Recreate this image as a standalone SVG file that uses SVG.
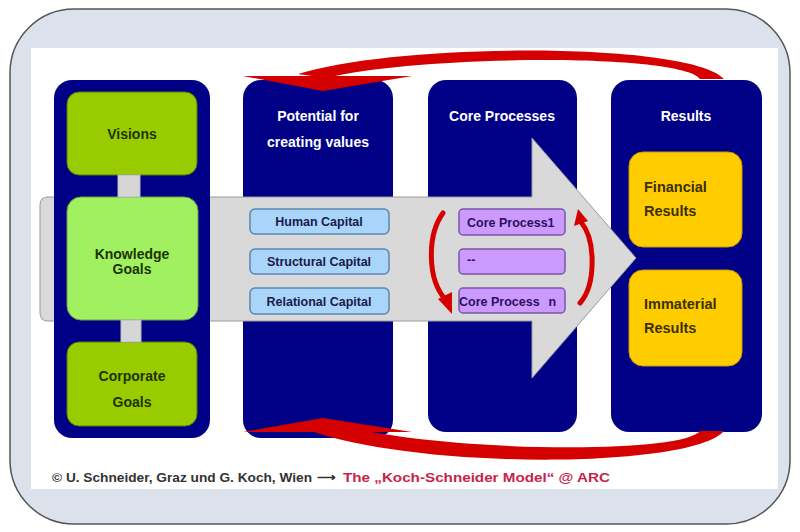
<svg xmlns="http://www.w3.org/2000/svg" width="800" height="532" viewBox="0 0 800 532">
<defs>
<style>
.col{fill:#000087;}
.hdr{fill:#ffffff;font-family:"Liberation Sans",Arial,sans-serif;font-weight:bold;font-size:14px;text-anchor:middle;}
.gtxt{fill:#1f3300;font-family:"Liberation Sans",Arial,sans-serif;font-weight:bold;font-size:14px;text-anchor:middle;}
.ytxt{fill:#3a3000;font-family:"Liberation Sans",Arial,sans-serif;font-weight:bold;font-size:14.5px;}
.ctxt{fill:#1a1a4a;font-family:"Liberation Sans",Arial,sans-serif;font-weight:bold;font-size:12.5px;text-anchor:middle;}
.ptxt{fill:#2a1060;font-family:"Liberation Sans",Arial,sans-serif;font-weight:bold;font-size:12.5px;}
.ftxt{font-family:"Liberation Sans",Arial,sans-serif;font-weight:bold;font-size:13px;}
.green{fill:#99cc00;stroke:#557a00;stroke-width:1;}
.lgreen{fill:#a0f060;stroke:#6aa040;stroke-width:1;}
.gold{fill:#ffcc00;stroke:#c99a00;stroke-width:1;}
.cap{fill:#a9d5fa;stroke:#5f86ad;stroke-width:1.5;}
.proc{fill:#cc99ff;stroke:#7a55a8;stroke-width:1.5;}
.link{fill:#d6d6d6;stroke:#bbbbbb;stroke-width:1;}
.red{fill:#d50000;}
.redl{fill:none;stroke:#d50000;stroke-width:5;stroke-linecap:round;}
</style>
</defs>
<rect x="10" y="9" width="780" height="515" rx="64" ry="64" fill="#dbe2ec" stroke="#555" stroke-width="1.5"/>
<rect x="31" y="48" width="747" height="441" fill="#ffffff"/>

<g id="col-potential"><rect class="col" x="243" y="80" width="150" height="358" rx="18"/>
<text class="hdr" x="318" y="121">Potential for</text><text class="hdr" x="318" y="147">creating values</text></g>
<g id="col-core"><rect class="col" x="428" y="80" width="149" height="352" rx="18"/>
<text class="hdr" x="502" y="121">Core Processes</text></g>
<g id="col-results"><rect class="col" x="611" y="80" width="151" height="352" rx="18"/>
<text class="hdr" x="686" y="121">Results</text></g>

<g id="big-arrow"><path d="M48 197 L532 197 L532 138 L636 258 L532 378 L532 321 L48 321 Q40 321 40 313 L40 205 Q40 197 48 197 Z" fill="#d9d9d9" stroke="#9a9a9a" stroke-width="1"/></g>

<g id="col-goals"><rect class="col" x="54" y="80" width="156" height="358" rx="18"/></g>
<g id="visions"><rect class="green" x="67" y="92" width="130" height="83" rx="12"/><text class="gtxt" x="132" y="139">Visions</text></g>
<g id="knowledge-goals"><rect class="lgreen" x="67" y="197" width="131" height="123" rx="14"/><text class="gtxt" x="132" y="259" font-size="13">Knowledge</text><text class="gtxt" x="132" y="274" font-size="13">Goals</text></g>
<g id="corporate-goals"><rect class="green" x="67" y="342" width="130" height="84" rx="12"/><text class="gtxt" x="132" y="381">Corporate</text><text class="gtxt" x="132" y="407">Goals</text></g>

<g id="human-capital"><rect class="cap" x="250" y="209" width="139" height="25" rx="5"/><text class="ctxt" x="319" y="226">Human Capital</text></g>
<g id="structural-capital"><rect class="cap" x="250" y="249" width="139" height="25" rx="5"/><text class="ctxt" x="319" y="266">Structural Capital</text></g>
<g id="relational-capital"><rect class="cap" x="250" y="288" width="139" height="26" rx="5"/><text class="ctxt" x="319" y="306">Relational Capital</text></g>

<g id="core-process-1"><rect class="proc" x="459" y="209" width="106" height="26" rx="4"/><text class="ptxt" x="467" y="227">Core Process1</text></g>
<g id="core-process-mid"><rect class="proc" x="459" y="249" width="106" height="25" rx="4"/><text class="ptxt" x="467" y="264">--</text></g>
<g id="core-process-n"><rect class="proc" x="459" y="288" width="106" height="25" rx="4"/><text class="ptxt" x="459" y="306">Core Process<tspan dx="9">n</tspan></text></g>

<g id="financial-results"><rect class="gold" x="629" y="152" width="113" height="95" rx="14"/><text class="ytxt" x="644" y="192">Financial</text><text class="ytxt" x="644" y="216">Results</text></g>
<g id="immaterial-results"><rect class="gold" x="629" y="270" width="113" height="96" rx="14"/><text class="ytxt" x="644" y="309">Immaterial</text><text class="ytxt" x="644" y="333">Results</text></g>

<g id="connectors">
<rect class="link" x="118" y="175" width="22" height="22"/>
<rect class="link" x="121" y="320" width="20" height="22"/>
<path class="red" d="M724 79 C690 42, 400 42, 298 74 L326 78 C420 55, 680 53, 700 79 Z"/>
<polygon class="red" points="243,76 412,76 323,91"/>
<path class="red" d="M724 431 C690 470, 400 470, 298 426 L326 421 C420 452, 680 456, 700 431 Z"/>
<polygon class="red" points="243,432 412,432 323,418"/>
<path class="redl" d="M443 213 C427 235, 427 280, 446 300"/>
<polygon class="red" points="438,299 452,292 452,314"/>
<path class="redl" d="M580 303 C596 285, 596 240, 581 222"/>
<polygon class="red" points="574,226 588,221 578,209"/>
</g>

<g id="footer">
<text class="ftxt" x="52" y="482" fill="#333" textLength="260" lengthAdjust="spacingAndGlyphs">© U. Schneider, Graz und G. Koch, Wien</text>
<text class="ftxt" x="317" y="482" fill="#333">⟶</text>
<text class="ftxt" x="343" y="482" fill="#c8234a" textLength="267" lengthAdjust="spacingAndGlyphs">The „Koch-Schneider Model“ @ ARC</text>
</g>
</svg>
